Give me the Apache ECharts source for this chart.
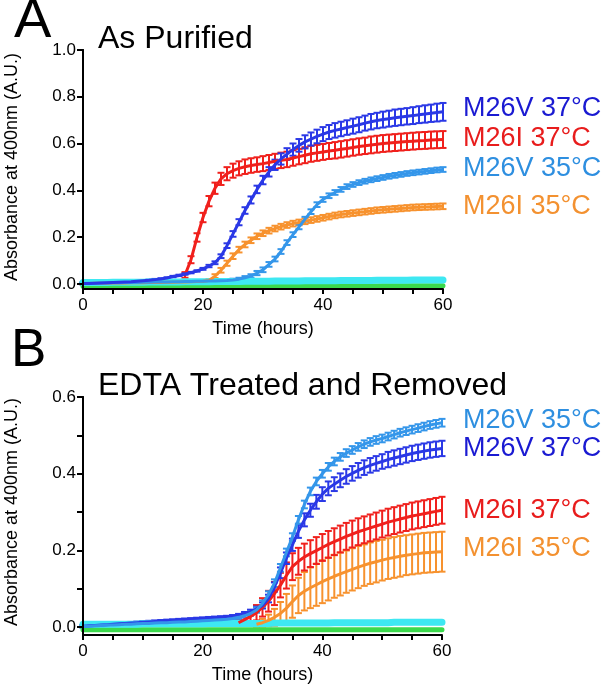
<!DOCTYPE html>
<html>
<head>
<meta charset="utf-8">
<title>Absorbance at 400nm</title>
<script src="https://cdn.jsdelivr.net/npm/echarts@6.0.0/dist/echarts.min.js"></script>
<style>
    html, body { margin: 0; padding: 0; background: #fff; }
    #chart { width: 604px; height: 688px; }
</style>
</head>
<body>
<div id="chart"></div>
<script>
// sampling times (hours)
var hours = [0,1,2,3,4,5,6,7,8,9,10,11,12,13,14,15,16,17,18,19,20,21,22,23,24,25,26,27,28,29,30,
             31,32,33,34,35,36,37,38,39,40,41,42,43,44,45,46,47,48,49,50,51,52,53,54,55,56,57,58,59,60];

// axis ticks / labels
var xTickStep = 5;
var xLabelStep = 20;
var aYTickStep = 0.2;
var bYTickStep = 0.1;
var bYLabelStep = 0.2;

// ---- panel A: as purified ----
var aV37 = [0.003,0.004,0.005,0.006,0.007,0.008,0.009,0.010,0.011,0.013,
            0.015,0.017,0.020,0.023,0.027,0.033,0.038,0.044,0.050,0.057,
            0.066,0.078,0.092,0.120,0.165,0.215,0.265,0.315,0.360,0.405,
            0.445,0.480,0.510,0.535,0.556,0.575,0.593,0.608,0.620,0.631,
            0.641,0.650,0.657,0.663,0.669,0.675,0.681,0.688,0.694,0.699,
            0.703,0.707,0.711,0.714,0.717,0.720,0.724,0.727,0.730,0.733,0.736];
var aV37Err = [0.003,0.003,0.003,0.003,0.003,0.003,0.003,0.003,0.003,0.003,
               0.003,0.003,0.003,0.003,0.003,0.003,0.003,0.003,0.003,0.003,
               0.004,0.005,0.006,0.008,0.010,0.012,0.013,0.014,0.015,0.016,
               0.018,0.020,0.022,0.024,0.025,0.026,0.027,0.028,0.028,0.029,
               0.030,0.030,0.031,0.031,0.031,0.032,0.032,0.032,0.033,0.033,
               0.034,0.034,0.035,0.035,0.035,0.036,0.036,0.037,0.037,0.038,0.038];

var aI37 = [null,null,null,null,null,null,null,null,null,null,
            null,null,null,null,null,null,null,0.040,0.105,0.200,
            0.285,0.355,0.410,0.450,0.472,0.485,0.495,0.502,0.507,0.511,
            0.515,0.520,0.525,0.529,0.533,0.539,0.545,0.551,0.557,0.561,
            0.565,0.569,0.572,0.576,0.580,0.584,0.588,0.591,0.595,0.598,
            0.601,0.603,0.605,0.607,0.609,0.611,0.613,0.614,0.616,0.617,0.618];
var aI37Err = [0,0,0,0,0,0,0,0,0,0,
               0,0,0,0,0,0,0,0.012,0.015,0.018,
               0.020,0.022,0.024,0.026,0.028,0.030,0.030,0.031,0.031,0.031,
               0.032,0.032,0.032,0.033,0.033,0.033,0.033,0.034,0.034,0.034,
               0.034,0.034,0.035,0.035,0.035,0.035,0.035,0.035,0.036,0.036,
               0.036,0.036,0.036,0.036,0.036,0.036,0.036,0.036,0.036,0.036,0.036];

var aV35 = [0.004,0.005,0.005,0.006,0.006,0.007,0.007,0.008,0.008,0.008,
            0.009,0.009,0.010,0.010,0.010,0.011,0.011,0.012,0.012,0.013,
            0.013,0.014,0.014,0.015,0.016,0.018,0.022,0.028,0.035,0.048,
            0.062,0.085,0.108,0.140,0.178,0.212,0.245,0.278,0.310,0.340,
            0.362,0.378,0.392,0.405,0.417,0.426,0.434,0.440,0.446,0.451,
            0.456,0.461,0.465,0.469,0.473,0.476,0.479,0.482,0.485,0.488,0.490];
var aV35Err = [0.004,0.004,0.004,0.004,0.004,0.004,0.004,0.004,0.004,0.004,
               0.004,0.004,0.004,0.004,0.004,0.004,0.004,0.004,0.004,0.004,
               0.004,0.004,0.004,0.005,0.005,0.006,0.006,0.007,0.008,0.009,
               0.010,0.010,0.010,0.010,0.010,0.010,0.010,0.010,0.010,0.010,
               0.010,0.010,0.010,0.010,0.010,0.010,0.010,0.010,0.010,0.010,
               0.010,0.010,0.010,0.010,0.010,0.010,0.010,0.010,0.010,0.010,0.010];

var aI35 = [0.004,0.004,0.005,0.005,0.005,0.006,0.006,0.006,0.007,0.007,
            0.007,0.008,0.008,0.008,0.009,0.009,0.010,0.010,0.011,0.012,
            0.013,0.016,0.035,0.060,0.090,0.120,0.148,0.170,0.188,0.205,
            0.218,0.229,0.238,0.246,0.253,0.259,0.264,0.269,0.274,0.279,
            0.284,0.289,0.294,0.298,0.301,0.304,0.307,0.310,0.313,0.316,
            0.318,0.320,0.322,0.324,0.326,0.328,0.329,0.330,0.331,0.332,0.333];
var aI35Err = [0.004,0.004,0.004,0.004,0.004,0.004,0.004,0.004,0.004,0.004,
               0.004,0.004,0.004,0.004,0.004,0.004,0.004,0.004,0.004,0.004,
               0.005,0.006,0.008,0.010,0.011,0.012,0.012,0.012,0.012,0.012,
               0.012,0.012,0.012,0.012,0.012,0.012,0.012,0.012,0.012,0.012,
               0.012,0.012,0.012,0.012,0.012,0.012,0.012,0.012,0.012,0.012,
               0.012,0.012,0.012,0.012,0.012,0.012,0.012,0.012,0.012,0.012,0.012];

var aCyan = [0.008,0.008,0.008,0.008,0.008,0.009,0.009,0.009,0.009,0.009,
             0.009,0.010,0.010,0.010,0.010,0.010,0.010,0.011,0.011,0.011,
             0.011,0.011,0.012,0.012,0.012,0.012,0.012,0.013,0.013,0.013,
             0.013,0.013,0.014,0.014,0.014,0.014,0.014,0.015,0.015,0.015,
             0.015,0.015,0.015,0.016,0.016,0.016,0.016,0.016,0.016,0.017,
             0.017,0.017,0.017,0.017,0.017,0.018,0.018,0.018,0.018,0.018,0.018];
var aGreen = [-0.008,-0.008,-0.008,-0.008,-0.008,-0.008,-0.008,-0.008,-0.008,-0.008,
              -0.008,-0.008,-0.008,-0.008,-0.008,-0.008,-0.008,-0.008,-0.008,-0.008,
              -0.008,-0.008,-0.008,-0.008,-0.008,-0.008,-0.008,-0.008,-0.008,-0.008,
              -0.007,-0.007,-0.007,-0.007,-0.007,-0.007,-0.007,-0.007,-0.007,-0.007,
              -0.007,-0.007,-0.007,-0.007,-0.007,-0.007,-0.007,-0.007,-0.007,-0.007,
              -0.006,-0.006,-0.006,-0.006,-0.006,-0.006,-0.006,-0.006,-0.006,-0.006,-0.006];

// ---- panel B: EDTA treated and removed ----
var bV37 = [0.003,0.004,0.005,0.006,0.007,0.008,0.009,0.010,0.011,0.012,
            0.013,0.014,0.015,0.016,0.017,0.018,0.019,0.020,0.021,0.022,
            0.023,0.024,0.025,0.026,0.027,0.029,0.032,0.036,0.041,0.048,
            0.057,0.075,0.105,0.142,0.180,0.215,0.250,0.280,0.305,0.327,
            0.347,0.362,0.373,0.383,0.393,0.401,0.409,0.416,0.422,0.427,
            0.432,0.437,0.441,0.445,0.449,0.453,0.456,0.459,0.462,0.464,0.466];
var bV37Err = [0.003,0.003,0.003,0.003,0.003,0.003,0.003,0.003,0.003,0.003,
               0.003,0.003,0.003,0.003,0.003,0.003,0.003,0.003,0.003,0.003,
               0.003,0.003,0.003,0.003,0.003,0.003,0.003,0.004,0.005,0.006,
               0.008,0.010,0.012,0.014,0.015,0.016,0.017,0.017,0.017,0.018,
               0.018,0.018,0.018,0.018,0.019,0.019,0.019,0.019,0.019,0.019,
               0.019,0.020,0.020,0.020,0.020,0.020,0.020,0.020,0.020,0.020,0.020];

var bV35 = [0.002,0.003,0.004,0.005,0.006,0.006,0.007,0.008,0.008,0.009,
            0.010,0.010,0.011,0.012,0.012,0.013,0.014,0.014,0.015,0.016,
            0.017,0.018,0.019,0.020,0.021,0.023,0.026,0.030,0.036,0.045,
            0.062,0.085,0.115,0.155,0.195,0.235,0.280,0.320,0.354,0.380,
            0.400,0.418,0.432,0.444,0.454,0.462,0.470,0.477,0.483,0.488,
            0.492,0.497,0.502,0.507,0.511,0.515,0.519,0.523,0.527,0.530,0.533];
var bV35Err = [0.003,0.003,0.003,0.003,0.003,0.003,0.003,0.003,0.003,0.003,
               0.003,0.003,0.003,0.003,0.003,0.003,0.003,0.003,0.003,0.003,
               0.003,0.003,0.003,0.003,0.003,0.004,0.004,0.005,0.006,0.007,
               0.008,0.009,0.010,0.010,0.010,0.010,0.010,0.010,0.010,0.010,
               0.010,0.010,0.010,0.010,0.010,0.010,0.010,0.010,0.010,0.010,
               0.010,0.010,0.010,0.010,0.010,0.010,0.010,0.010,0.010,0.010,0.010];

var bI37 = [null,null,null,null,null,null,null,null,null,null,
            null,null,null,null,null,null,null,null,null,null,
            null,null,null,null,null,null,0.012,0.020,0.028,0.038,
            0.052,0.068,0.088,0.110,0.135,0.158,0.172,0.183,0.192,0.200,
            0.208,0.216,0.223,0.230,0.237,0.243,0.249,0.254,0.259,0.264,
            0.269,0.274,0.278,0.282,0.286,0.290,0.293,0.296,0.299,0.302,0.305];
var bI37Err = [0,0,0,0,0,0,0,0,0,0,
               0,0,0,0,0,0,0,0,0,0,
               0,0,0,0,0,0,0.008,0.012,0.016,0.020,
               0.024,0.027,0.030,0.032,0.034,0.035,0.035,0.035,0.035,0.035,
               0.035,0.035,0.035,0.035,0.035,0.035,0.035,0.035,0.035,0.035,
               0.035,0.035,0.035,0.035,0.035,0.035,0.035,0.035,0.035,0.035,0.035];

var bI35 = [null,null,null,null,null,null,null,null,null,null,
            null,null,null,null,null,null,null,null,null,null,
            null,null,null,null,null,null,null,null,null,0.008,
            0.012,0.018,0.026,0.036,0.050,0.067,0.083,0.094,0.103,0.111,
            0.119,0.126,0.133,0.139,0.145,0.151,0.157,0.162,0.167,0.171,
            0.175,0.179,0.182,0.185,0.188,0.190,0.192,0.194,0.195,0.196,0.197];
var bI35Err = [0,0,0,0,0,0,0,0,0,0,
               0,0,0,0,0,0,0,0,0,0,
               0,0,0,0,0,0,0,0,0,0.006,
               0.010,0.015,0.022,0.030,0.037,0.042,0.046,0.050,0.053,0.055,
               0.056,0.056,0.056,0.056,0.055,0.055,0.055,0.054,0.054,0.054,
               0.053,0.053,0.053,0.053,0.052,0.052,0.052,0.052,0.052,0.052,0.052];

var bCyan = [0.008,0.008,0.008,0.008,0.008,0.008,0.008,0.008,0.008,0.008,
             0.009,0.009,0.009,0.009,0.009,0.009,0.009,0.009,0.009,0.009,
             0.009,0.010,0.010,0.010,0.010,0.010,0.010,0.010,0.010,0.010,
             0.010,0.010,0.011,0.011,0.011,0.011,0.011,0.011,0.011,0.011,
             0.011,0.011,0.012,0.012,0.012,0.012,0.012,0.012,0.012,0.012,
             0.012,0.012,0.013,0.013,0.013,0.013,0.013,0.013,0.013,0.013,0.013];
var bGreen = [-0.006,-0.006,-0.006,-0.006,-0.006,-0.006,-0.006,-0.006,-0.006,-0.006,
              -0.006,-0.006,-0.006,-0.006,-0.006,-0.006,-0.006,-0.006,-0.006,-0.006,
              -0.006,-0.006,-0.006,-0.006,-0.006,-0.006,-0.006,-0.006,-0.006,-0.006,
              -0.006,-0.006,-0.006,-0.006,-0.006,-0.006,-0.006,-0.006,-0.006,-0.006,
              -0.006,-0.006,-0.006,-0.006,-0.006,-0.006,-0.006,-0.006,-0.006,-0.006,
              -0.006,-0.006,-0.006,-0.006,-0.006,-0.006,-0.006,-0.006,-0.006,-0.006,-0.006];

var FONT = '"Liberation Sans", Arial, Helvetica, sans-serif';

var C_V37 = '#2a38e6', C_I37 = '#f0201c', C_V35 = '#3496ea', C_I35 = '#f7922e';
var C_CYAN = '#3ee8f2', C_GREEN = '#3bd94c';

function pairs(vals) {
    var out = [];
    vals.forEach(function (v, i) {
        if (v !== null) out.push([hours[i], v]);
    });
    return out;
}

function triples(vals, errs) {
    var out = [];
    vals.forEach(function (v, i) {
        if (v !== null) out.push([hours[i], v, errs[i]]);
    });
    return out;
}

// line + error bars for one condition
function curve(panel, color, vals, errs) {
    return [{
        type: 'line',
        xAxisIndex: panel,
        yAxisIndex: panel,
        data: pairs(vals),
        showSymbol: false,
        silent: true,
        animation: false,
        lineStyle: { color: color, width: 3 }
    }, {
        type: 'custom',
        xAxisIndex: panel,
        yAxisIndex: panel,
        data: triples(vals, errs),
        encode: { x: 0, y: 1 },
        silent: true,
        animation: false,
        renderItem: function (params, api) {
            var x = api.value(0), y = api.value(1), e = api.value(2);
            var hi = api.coord([x, y + e]);
            var lo = api.coord([x, y - e]);
            var st = { stroke: color, lineWidth: 2 };
            return {
                type: 'group',
                children: [
                    { type: 'line', shape: { x1: hi[0], y1: hi[1], x2: lo[0], y2: lo[1] }, style: st },
                    { type: 'line', shape: { x1: hi[0] - 3.5, y1: hi[1], x2: hi[0] + 3.5, y2: hi[1] }, style: st },
                    { type: 'line', shape: { x1: lo[0] - 3.5, y1: lo[1], x2: lo[0] + 3.5, y2: lo[1] }, style: st }
                ]
            };
        }
    }];
}

function flat(panel, color, vals, width) {
    return {
        type: 'line',
        xAxisIndex: panel,
        yAxisIndex: panel,
        data: pairs(vals),
        showSymbol: false,
        silent: true,
        animation: false,
        lineStyle: { color: color, width: width, cap: 'round' }
    };
}

// data x axis, carries the ticks every 5 h, labels every 20 h
// onZero off, otherwise it would sit on y = 0 instead of the grid bottom
function xAxis(panel) {
    return {
        type: 'value',
        gridIndex: panel,
        min: 0,
        max: 60,
        interval: xTickStep,
        name: 'Time (hours)',
        nameLocation: 'middle',
        nameGap: 31,
        nameTextStyle: { fontSize: 18, color: '#000', fontFamily: FONT },
        axisLine: { onZero: false, lineStyle: { color: '#000', width: 2 } },
        axisTick: { show: true, length: 5, lineStyle: { color: '#000', width: 2 } },
        axisLabel: {
            fontSize: 17, color: '#000', fontFamily: FONT, margin: 8,
            formatter: function (v) { return v % xLabelStep === 0 ? String(v) : ''; }
        },
        splitLine: { show: false },
        z: 5
    };
}

// data y axis: starts a little below zero, only the line is drawn
function yDataAxis(panel, max) {
    return {
        type: 'value',
        gridIndex: panel,
        min: -0.02,
        max: max,
        axisLine: { show: true, onZero: false, lineStyle: { color: '#000', width: 2 } },
        axisTick: { show: false },
        axisLabel: { show: false },
        splitLine: { show: false },
        z: 5
    };
}

// tick y axis on an overlay grid that starts exactly at zero
// (its line has to be on, ticks are not drawn without it)
function yTickAxis(panel, max, step, labelStep) {
    return {
        type: 'value',
        gridIndex: panel,
        min: 0,
        max: max,
        interval: step,
        name: 'Absorbance at 400nm (A.U.)',
        nameLocation: 'middle',
        nameGap: 62,
        nameTextStyle: { fontSize: 18, color: '#000', fontFamily: FONT },
        axisLine: { show: true, onZero: false, lineStyle: { color: '#000', width: 2 } },
        axisTick: { show: true, length: 6, lineStyle: { color: '#000', width: 2 } },
        axisLabel: {
            fontSize: 17, color: '#000', fontFamily: FONT, margin: 7,
            formatter: function (v) {
                var k = Math.round(v / step);
                var every = Math.round(labelStep / step);
                return k % every === 0 ? v.toFixed(1) : '';
            }
        },
        splitLine: { show: false },
        z: 5
    };
}

function hiddenX(panel) {
    return { type: 'value', gridIndex: panel, min: 0, max: 60, show: false };
}

function txt(text, x, y, size, color) {
    return {
        type: 'text',
        x: x,
        y: y,
        silent: true,
        style: {
            text: text,
            fontSize: size,
            fontFamily: FONT,
            fill: color,
            align: 'left',
            verticalAlign: 'middle'
        }
    };
}

var myChart = echarts.init(document.getElementById('chart'), null, { renderer: 'canvas' });

var series = [].concat(
    // panel A
    flat(0, C_GREEN, aGreen, 5),
    flat(0, C_CYAN, aCyan, 7),
    curve(0, C_I35, aI35, aI35Err),
    curve(0, C_V35, aV35, aV35Err),
    curve(0, C_I37, aI37, aI37Err),
    curve(0, C_V37, aV37, aV37Err),
    // panel B
    flat(1, C_GREEN, bGreen, 5),
    flat(1, C_CYAN, bCyan, 7),
    curve(1, C_I35, bI35, bI35Err),
    curve(1, C_I37, bI37, bI37Err),
    curve(1, C_V37, bV37, bV37Err),
    curve(1, C_V35, bV35, bV35Err)
);

// grids keep their exact box, no shrinking to fit labels
function box(top, width, height) {
    return { left: 83, top: top, width: width, height: height, containLabel: false, outerBoundsMode: 'none' };
}

var option = {
    backgroundColor: '#fff',
    animation: false,
    grid: [
        box(50, 360, 239),
        box(397, 359, 238),
        // overlays: zero to top only, used for y ticks
        box(50, 360, 234),
        box(397, 359, 230)
    ],
    xAxis: [xAxis(0), xAxis(1), hiddenX(2), hiddenX(3)],
    yAxis: [
        yDataAxis(0, 1.0),
        yDataAxis(1, 0.6),
        yTickAxis(2, 1.0, aYTickStep, aYTickStep),
        yTickAxis(3, 0.6, bYTickStep, bYLabelStep)
    ],
    graphic: [
        txt('A', 14, 22, 56, '#000'),
        txt('As Purified', 98, 39, 32, '#000'),
        txt('B', 11, 351, 53, '#000'),
        txt('EDTA Treated and Removed', 98, 386, 32, '#000'),

        txt('M26V 37°C', 463, 109, 27, '#1a1ad2'),
        txt('M26I 37°C', 463, 139, 27, '#e81c1c'),
        txt('M26V 35°C', 463, 169, 27, '#2e8fe0'),
        txt('M26I 35°C', 463, 207, 27, '#f39130'),

        txt('M26V 35°C', 463, 421, 27, '#2e8fe0'),
        txt('M26V 37°C', 463, 449, 27, '#1a1ad2'),
        txt('M26I 37°C', 463, 511, 27, '#e81c1c'),
        txt('M26I 35°C', 463, 549, 27, '#f39130')
    ],
    series: series
};

myChart.setOption(option);
</script>
</body>
</html>
